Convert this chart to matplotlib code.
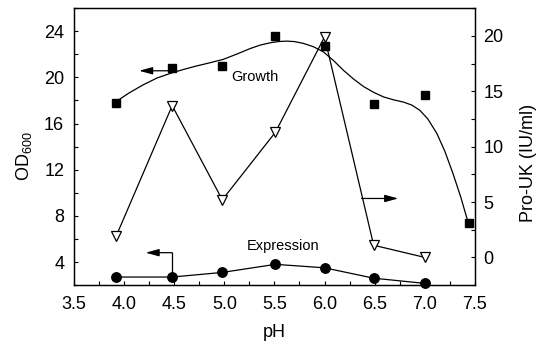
import matplotlib
matplotlib.use('Agg')
import matplotlib.pyplot as plt
from matplotlib.ticker import MultipleLocator

plt.rcParams['font.family'] = ['Liberation Sans', 'DejaVu Sans']
plt.rcParams['mathtext.fontset'] = 'custom'
plt.rcParams['mathtext.rm'] = 'Liberation Sans'

# Values
ph = [3.92, 4.48, 4.98, 5.51, 6.00, 6.49, 7.00, 7.44]
growth_od = [17.8, 20.8, 21.0, 23.6, 22.7, 17.7, 18.5, 7.4]

ph_expr = [3.92, 4.48, 4.98, 5.51, 6.00, 6.49, 7.00]
expression_od = [2.7, 2.7, 3.1, 3.8, 3.5, 2.6, 2.15]
pro_uk = [1.9, 13.7, 5.2, 11.3, 19.9, 1.1, 0.0]

# smoothed growth curve
fit_ph = [3.92, 4.05, 4.19, 4.33, 4.48, 4.60, 4.72, 4.85, 4.99, 5.12, 5.26,
          5.36, 5.46, 5.54, 5.62, 5.70, 5.79, 5.89, 5.99, 6.09, 6.19, 6.29,
          6.39, 6.49, 6.59, 6.69, 6.79, 6.87, 6.95, 7.03, 7.12, 7.20, 7.28,
          7.36, 7.43]
fit_od = [17.9, 18.65, 19.35, 19.95, 20.4, 20.7, 20.98, 21.25, 21.56, 22.0,
          22.5, 22.8, 23.0, 23.1, 23.14, 23.1, 22.94, 22.65, 22.2, 21.45,
          20.6, 19.85, 19.2, 18.7, 18.3, 18.05, 17.85, 17.6, 17.15, 16.4,
          15.15, 13.6, 11.7, 9.6, 7.5]

fig = plt.figure(figsize=(5.36, 3.52), dpi=100)
ax = fig.add_axes([0.138, 0.19, 0.748, 0.787])
ax2 = ax.twinx()

# growth (left axis)
ax.plot(fit_ph, fit_od, color='black', lw=0.9, zorder=2)
ax.plot(ph, growth_od, ls='none', marker='s', ms=6.2, color='black', zorder=3)

# expression (left axis)
ax.plot(ph_expr, expression_od, color='black', lw=0.9, marker='o', ms=6.8,
        clip_on=False, zorder=3)

# pro-UK (right axis)
ax2.plot(ph_expr, pro_uk, color='black', lw=0.9, marker='v', ms=7.5,
         mfc='white', mec='black', mew=0.9, clip_on=False)

arrow = dict(arrowstyle='-|>,head_length=0.8,head_width=0.22', color='black',
             lw=0.9, shrinkA=0, shrinkB=0, mutation_scale=10)
ax.annotate('', xy=(4.15, 20.57), xytext=(4.45, 20.57), arrowprops=arrow)
ax.plot([4.48, 4.48], [2.7, 4.81], color='black', lw=0.9)
ax.annotate('', xy=(4.215, 4.81), xytext=(4.48, 4.81), arrowprops=arrow)
ax2.annotate('', xy=(6.735, 5.32), xytext=(6.37, 5.32), arrowprops=arrow)

ax.text(5.07, 20.0, 'Growth', fontsize=10.5, ha='left', va='center')
ax.text(5.22, 5.4, 'Expression', fontsize=10.5, ha='left', va='center')

ax.set_xlim(3.5, 7.5)
ax.set_ylim(2, 26)
ax2.set_ylim(-2.5, 22.5)
ax.xaxis.set_major_locator(MultipleLocator(0.5))
ax.xaxis.set_minor_locator(MultipleLocator(0.25))
ax.set_yticks([4, 8, 12, 16, 20, 24])
ax.yaxis.set_minor_locator(MultipleLocator(2))
ax2.set_yticks([0, 5, 10, 15, 20])
ax2.yaxis.set_minor_locator(MultipleLocator(2.5))
ax.xaxis.set_major_formatter(plt.FuncFormatter(lambda v, p: f'{v:.1f}'))

ax.tick_params(which='both', direction='in', length=3, width=0.8,
               top=False, right=False, labelsize=13)
ax.tick_params(axis='y', pad=7)
ax.tick_params(axis='x', pad=8)
ax2.tick_params(which='both', direction='in', length=3, width=0.8,
                labelsize=13, pad=6)
for a in (ax, ax2):
    for s in a.spines.values():
        s.set_linewidth(0.9)

ax.set_xlabel('pH', fontsize=13, labelpad=8)
ax.set_ylabel(r'OD$_{\mathrm{600}}$', fontsize=13)
ax.yaxis.set_label_coords(-0.10, 0.464)
ax2.set_ylabel('Pro-UK (IU/ml)', fontsize=13)
ax2.yaxis.set_label_coords(1.112, 0.44)

fig.savefig('out.png', dpi=100)
